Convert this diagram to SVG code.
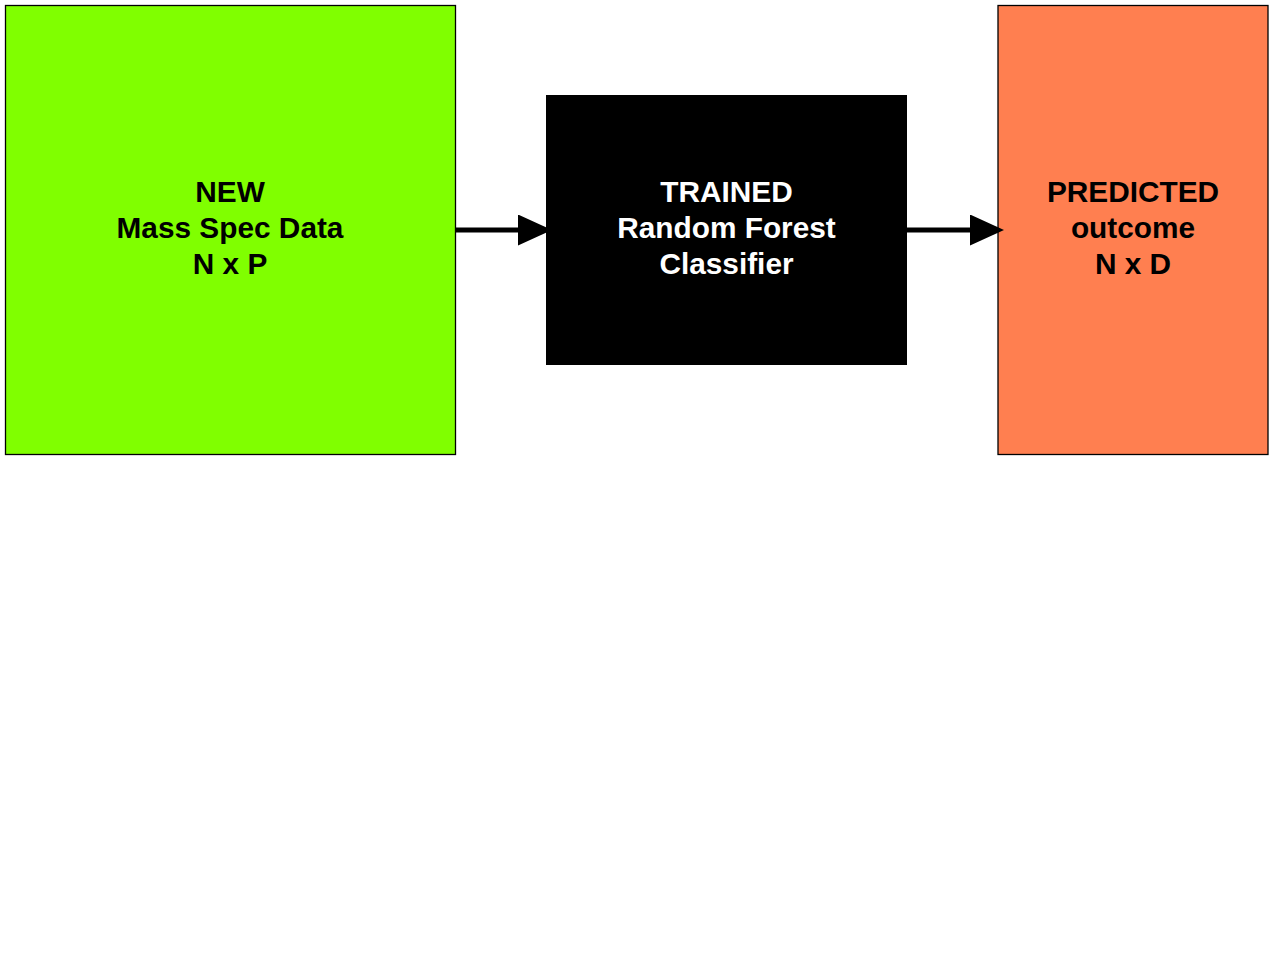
<svg xmlns="http://www.w3.org/2000/svg" width="1273" height="955" viewBox="0 0 1273 955">
<style>
.t{font-family:"Liberation Sans",Arial,sans-serif;font-weight:bold;font-size:29.8px;text-anchor:middle}
.box{stroke:#000;stroke-width:1.3}
.conn{stroke:#000;stroke-width:5;fill:none}
</style>
<defs>
<marker id="ah" markerUnits="userSpaceOnUse" markerWidth="40" markerHeight="40" refX="0" refY="15.5" orient="auto">
<path d="M0,0 L34,15.5 L0,31 Z" fill="#000"/>
</marker>
</defs>
<rect width="1273" height="955" fill="#fff"/>
<g id="new-data">
<rect class="box" x="5.5" y="5.5" width="450" height="449" fill="#80ff00"/>
<text class="t" fill="#000"><tspan x="230" y="202">NEW</tspan><tspan x="230" y="238">Mass Spec Data</tspan><tspan x="230" y="274">N x P</tspan></text>
</g>
<g id="classifier">
<rect x="546" y="95" width="361" height="270" fill="#000"/>
<text class="t" fill="#fff"><tspan x="726.5" y="202">TRAINED</tspan><tspan x="726.5" y="238">Random Forest</tspan><tspan x="726.5" y="274">Classifier</tspan></text>
</g>
<g id="predicted">
<rect class="box" x="998" y="5.5" width="270" height="449" fill="#ff7f50"/>
<text class="t" fill="#000"><tspan x="1133" y="202">PREDICTED</tspan><tspan x="1133" y="238">outcome</tspan><tspan x="1133" y="274">N x D</tspan></text>
</g>
<g id="connectors">
<line class="conn" x1="455" y1="230" x2="518" y2="230" marker-end="url(#ah)"/>
<line class="conn" x1="907" y1="230" x2="970" y2="230" marker-end="url(#ah)"/>
</g>
</svg>
